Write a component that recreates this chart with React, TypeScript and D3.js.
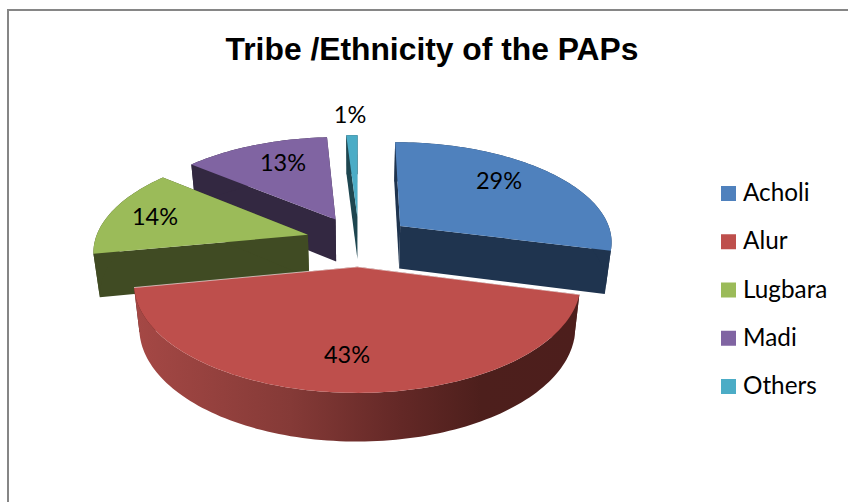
import React from "react";
import * as d3 from "d3";

const categories = ["Acholi", "Alur", "Lugbara", "Madi", "Others"];
const values = [29, 43, 14, 13, 1];
const topColors = ["#4f81bd", "#be4f4c", "#9bbb59", "#8064a2", "#4bacc6"];
const wallColors = ["#1f344f", "#4d1e1c", "#404b23", "#332841", "#1e4650"];
const paintOrder = [3, 4, 0, 2, 1];
const labelPositions: [number, number][] = [[499, 181], [347, 355], [155, 217], [283, 163], [350, 115]];

const W = 848, H = 502;
const view = { cx: 359, cy: 241, ax: 213, ay: 99.8, persp: 0.143, explode: 0.25, depth: 44, shrink: 0.976 };

function project(X: number, Y: number, lower: boolean): [number, number] {
  const s = (1 / (1 - view.persp * Y)) * (lower ? view.shrink : 1);
  return [view.cx + view.ax * X * s, view.cy + (view.ay * Y + (lower ? view.depth : 0)) * s];
}

const arcs = d3.pie<number>().sort(null)(values);
const line = d3.line();
const legendY = d3.scalePoint<string>().domain(categories).range([193.5, 386.5]);

function pieces(a: d3.PieArcDatum<number>) {
  const mid = (a.startAngle + a.endAngle) / 2;
  const ox = Math.sin(mid) * view.explode, oy = -Math.cos(mid) * view.explode;
  const n = Math.max(4, Math.ceil((a.endAngle - a.startAngle) * 40));
  const rim = d3.range(n + 1).map((i) => {
    const t = a.startAngle + ((a.endAngle - a.startAngle) * i) / n;
    return [ox + Math.sin(t), oy - Math.cos(t)] as [number, number];
  });
  const at = (p: [number, number], low: boolean) => project(p[0], p[1], low);
  const apex: [number, number] = [ox, oy];
  const first = rim[0], last = rim[n];
  return {
    top: line([at(apex, false), ...rim.map((p) => at(p, false))]) + "Z",
    edges: line([at(first, false), at(apex, false), at(last, false)]) as string,
    rim: line([...rim.map((p) => at(p, false)), ...rim.slice().reverse().map((p) => at(p, true))]) + "Z",
    sideA: line([at(apex, false), at(first, false), at(first, true), at(apex, true)]) + "Z",
    sideB: line([at(apex, false), at(last, false), at(last, true), at(apex, true)]) + "Z",
  };
}

export default function App() {
  return (
    <svg width={W} height={H} viewBox={`0 0 ${W} ${H}`} style={{ position: "absolute", left: 0, top: 0, background: "#fff" }}>
      <defs>
        <linearGradient id="redRim" gradientUnits="userSpaceOnUse" x1={135} x2={579} y1={0} y2={0}>
          <stop offset="0" stopColor="#a54845" />
          <stop offset="0.35" stopColor="#853a37" />
          <stop offset="0.6" stopColor="#632826" />
          <stop offset="0.78" stopColor="#4d1f1c" />
          <stop offset="1" stopColor="#4d1e1c" />
        </linearGradient>
      </defs>
      <path d="M8 502V10H848" fill="none" stroke="#868686" strokeWidth={2} />
      <text x={432} y={60} textAnchor="middle" fontFamily="'Liberation Sans', Arial, sans-serif" fontWeight="bold" fontSize={31.8} fill="#000">
        Tribe /Ethnicity of the PAPs
      </text>
      {paintOrder.map((i) => {
        const p = pieces(arcs[i]);
        return (
          <g key={categories[i]}>
            <path d={p.sideA} fill={wallColors[i]} />
            <path d={p.sideB} fill={wallColors[i]} />
            <path d={p.rim} fill={i === 1 ? "url(#redRim)" : wallColors[i]} />
            <path d={p.top} fill={topColors[i]} />
            {i === 1 && <path d={p.edges} fill="none" stroke="#fff" strokeOpacity={0.6} strokeWidth={1} />}
          </g>
        );
      })}
      {values.map((v, i) => (
        <text key={i} x={labelPositions[i][0]} y={labelPositions[i][1]} dy="0.35em" textAnchor="middle" fontFamily="Lato, sans-serif" fontSize={23.5} fill="#000">
          {v}%
        </text>
      ))}
      {categories.map((c, i) => (
        <g key={c} transform={`translate(721,${legendY(c)})`}>
          <rect x={0} y={-7.5} width={15} height={15} fill={topColors[i]} />
          <text x={22} y={-1} dy="0.35em" fontFamily="Lato, sans-serif" fontSize={24.3} fill="#000">{c}</text>
        </g>
      ))}
    </svg>
  );
}
